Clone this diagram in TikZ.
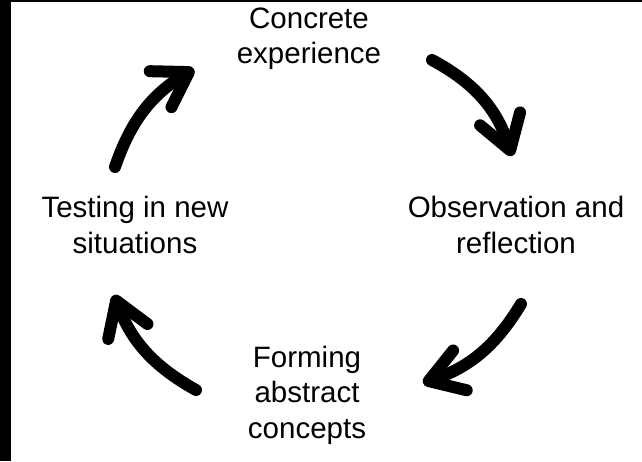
\documentclass[tikz,border=0pt]{standalone}
\usepackage{fontspec}
\setmainfont{Liberation Sans}
\usepackage{tikz}
\usetikzlibrary{arrows.meta,positioning}
\usepackage{xcolor}
\definecolor{cyblack}{RGB}{0,0,0}
\definecolor{cywhite}{RGB}{255,255,255}
\tikzstyle{stage} = [align=center, inner sep=0pt, text=cyblack, font=\fontsize{29.5}{35.5}\selectfont]
\tikzstyle{cyclearrow} = [line width=12pt, line cap=round, draw=cyblack, -{Straight Barb[length=33pt, width=42pt, round]}]

\begin{document}
\begin{tikzpicture}[x=1pt, y=-1pt]
    % Frame
    \fill[cyblack] (0,0) rectangle (642,461);
    \fill[cywhite] (11,2) rectangle (642,461);
    \useasboundingbox (0,0) rectangle (642,461);

    % Stages
    \node[stage] (exp) at (309,39) {Concrete\\experience};
    \node[stage] (obs) at (516,225) {Observation and\\reflection};
    \node[stage] (abs) at (307,395) {Forming\\abstract\\concepts};
    \node[stage] (test) at (135,225) {Testing in new\\situations};

    % Arrow ends
    \coordinate (test-out) at (115,167);
    \coordinate (exp-in) at (194,69);
    \coordinate (exp-out) at (432,60);
    \coordinate (obs-in) at (512,156);
    \coordinate (obs-out) at (521,304);
    \coordinate (abs-in) at (423,383);
    \coordinate (abs-out) at (196,390);
    \coordinate (test-in) at (114,295);

    % Arrows
    \draw[cyclearrow] (test-out) to[bend left=20] (exp-in);
    \draw[cyclearrow] (exp-out) to[bend left=22] (obs-in);
    \draw[cyclearrow] (obs-out) to[bend left=20] (abs-in);
    \draw[cyclearrow] (abs-out) to[bend left=20] (test-in);
\end{tikzpicture}
\end{document}
